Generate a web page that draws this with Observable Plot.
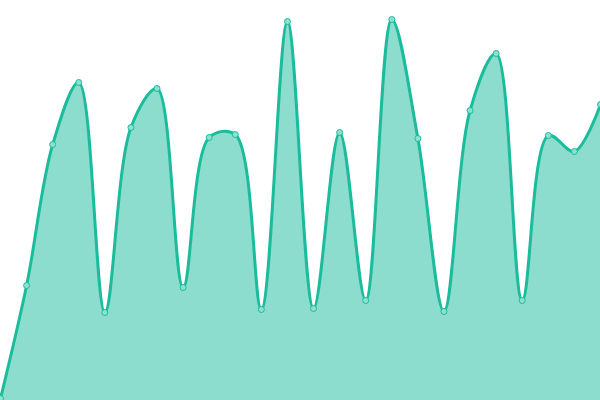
<!DOCTYPE html>
<html>
<head>
<meta charset="utf-8">
<script src="https://cdn.jsdelivr.net/npm/d3@7"></script>
<script src="https://cdn.jsdelivr.net/npm/@observablehq/plot@0.6"></script>
<style>
  html, body { margin: 0; padding: 0; background: #fff; }
  #chart svg { overflow: visible; }
</style>
</head>
<body>
<div id="chart"></div>
<script>
const indices = d3.range(24);
const values = [2, 115, 256, 318, 88, 273, 312, 113, 263, 266, 91, 379, 92, 268, 100, 381, 262, 89, 290, 347, 100, 265, 249, 296];

const data = indices.map((i) => ({x: i, y: values[i]}));

const chart = Plot.plot({
  width: 600,
  height: 400,
  margin: 0,
  x: {domain: [0, 23], axis: null},
  y: {domain: [0, 400], axis: null},
  marks: [
    Plot.areaY(data, {x: "x", y: "y", curve: "catmull-rom", fill: "#1abc9c", fillOpacity: 0.5}),
    Plot.lineY(data, {x: "x", y: "y", curve: "catmull-rom", stroke: "#1abc9c", strokeWidth: 3}),
    Plot.dot(data, {x: "x", y: "y", r: 3, fill: "#8ee0cf", stroke: "#1abc9c", strokeWidth: 1})
  ]
});
document.getElementById("chart").appendChild(chart);
</script>
</body>
</html>
